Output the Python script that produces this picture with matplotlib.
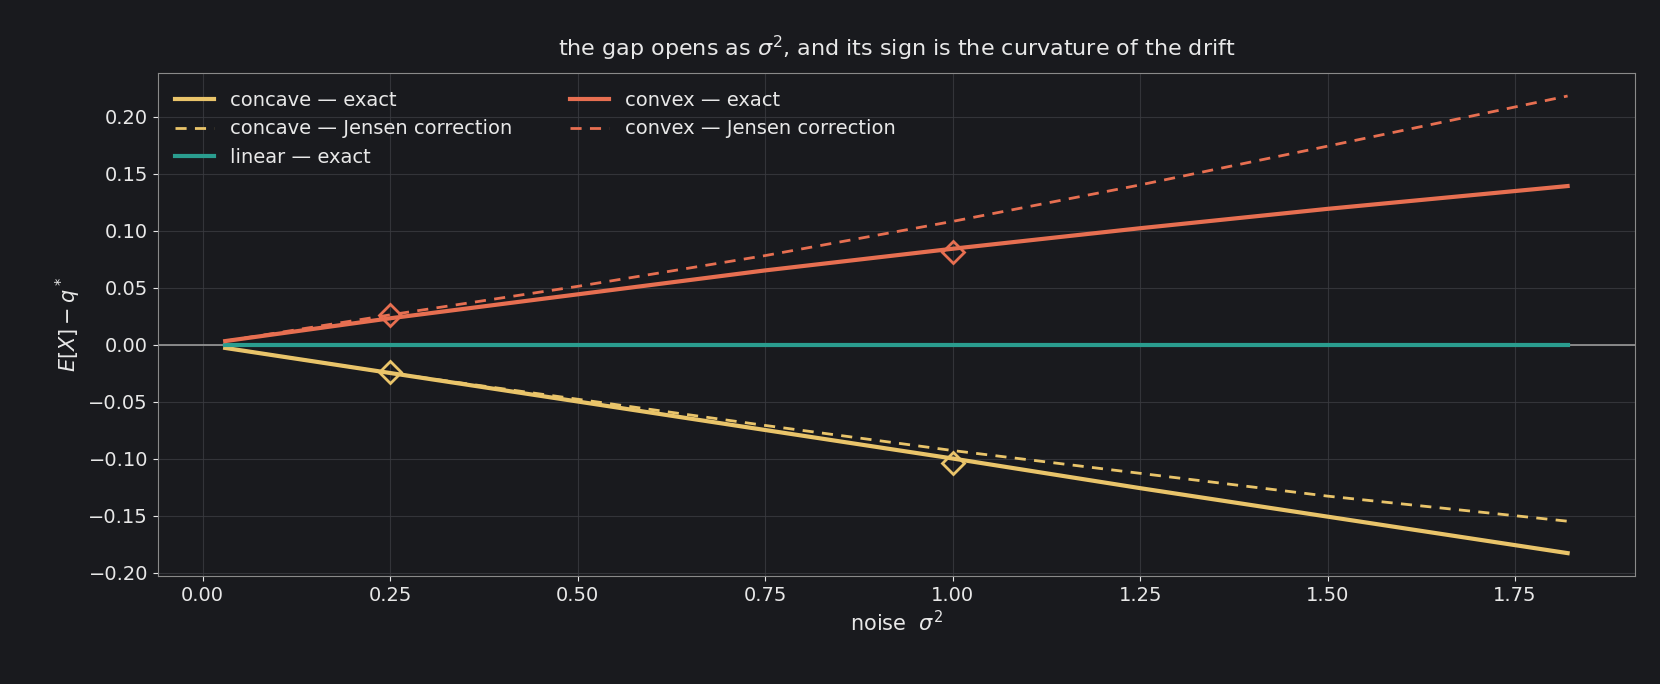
import matplotlib
matplotlib.use("Agg")
import matplotlib.pyplot as plt

sigma2 = [0.03, 0.25, 0.5, 0.75, 1.0, 1.25, 1.5, 1.82]
concave_exact = [-0.003, -0.025, -0.050, -0.075, -0.100, -0.126, -0.151, -0.183]
concave_jensen = [-0.003, -0.025, -0.048, -0.071, -0.093, -0.113, -0.133, -0.155]
linear_exact = [0, 0, 0, 0, 0, 0, 0, 0]
convex_exact = [0.003, 0.023, 0.044, 0.065, 0.084, 0.102, 0.119, 0.139]
convex_jensen = [0.003, 0.026, 0.051, 0.078, 0.108, 0.140, 0.174, 0.218]
mark_x = [0.25, 1.0]
mark_concave = [-0.024, -0.104]
mark_convex = [0.026, 0.081]

BG = "#191a1e"
TXT = "#e8e8e8"
YEL = "#e9c46a"
ORG = "#e76f51"
TEAL = "#2a9d8f"

fig = plt.figure(figsize=(16.6, 6.84), dpi=100, facecolor=BG)
ax = fig.add_axes([0.095, 0.158, 0.89, 0.735], facecolor=BG)

ax.axhline(0, color="#9a9a9a", lw=1.2, zorder=1)
ax.plot(sigma2, concave_exact, color=YEL, lw=3, label="concave — exact", zorder=3)
ax.plot(sigma2, concave_jensen, color=YEL, lw=2, ls=(0, (4, 3)), label="concave — Jensen correction", zorder=3)
ax.plot(sigma2, linear_exact, color=TEAL, lw=3, label="linear — exact", zorder=3)
ax.plot(sigma2, convex_exact, color=ORG, lw=3, label="convex — exact", zorder=3)
ax.plot(sigma2, convex_jensen, color=ORG, lw=2, ls=(0, (4, 3)), label="convex — Jensen correction", zorder=3)
ax.plot(mark_x, mark_concave, ls="none", marker="D", ms=11, mfc="none", mec=YEL, mew=2, zorder=4)
ax.plot(mark_x, mark_convex, ls="none", marker="D", ms=11, mfc="none", mec=ORG, mew=2, zorder=4)

ax.set_xlim(-0.06, 1.91)
ax.set_ylim(-0.203, 0.238)
ax.set_xticks([0, 0.25, 0.5, 0.75, 1.0, 1.25, 1.5, 1.75])
ax.set_yticks([-0.2, -0.15, -0.1, -0.05, 0, 0.05, 0.1, 0.15, 0.2])
ax.grid(True, color="#3a3b40", lw=0.8, alpha=0.8)
ax.set_axisbelow(True)
for s in ax.spines.values():
    s.set_color("#8a8a8a")
ax.tick_params(colors=TXT, labelsize=14)
ax.set_xlabel(r"noise  $\sigma^2$", color=TXT, fontsize=15)
ax.set_ylabel(r"$E[X]-q^*$", color=TXT, fontsize=15)
ax.set_title(r"the gap opens as $\sigma^2$, and its sign is the curvature of the drift", color=TXT, fontsize=16, pad=12)
ax.legend(loc="upper left", ncol=2, frameon=False, fontsize=14, labelcolor=TXT, columnspacing=3, handlelength=2)

fig.savefig("out.png", facecolor=BG)
